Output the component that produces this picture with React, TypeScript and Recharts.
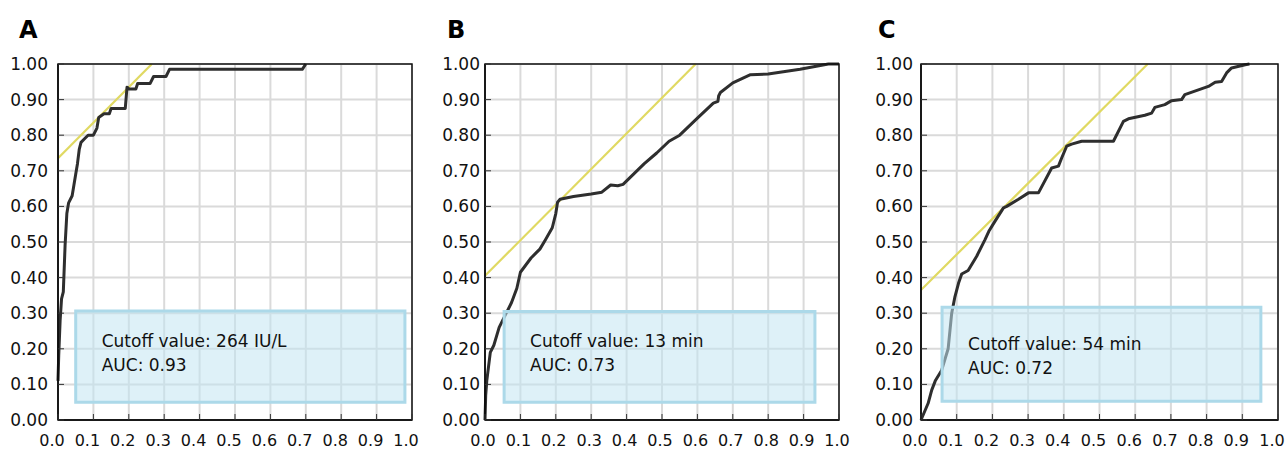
import React from 'react';
import { LineChart, Line, XAxis, YAxis, CartesianGrid, ReferenceArea } from 'recharts';

const panelLetters = ['A', 'B', 'C'];
const cutoffTexts = ['Cutoff value: 264 IU/L', 'Cutoff value: 13 min', 'Cutoff value: 54 min'];
const aucTexts = ['AUC: 0.93', 'AUC: 0.73', 'AUC: 0.72'];

const axisTicks = [0, 0.1, 0.2, 0.3, 0.4, 0.5, 0.6, 0.7, 0.8, 0.9, 1.0];

// panel A - ROC curve (1 - specificity vs sensitivity)
const aFpr = [0, 0.002, 0.006, 0.01, 0.015, 0.02, 0.025, 0.03, 0.04, 0.045, 0.05, 0.055, 0.06, 0.065, 0.075, 0.085, 0.1, 0.11, 0.115, 0.13, 0.145, 0.15, 0.19, 0.195, 0.2, 0.22, 0.225, 0.26, 0.27, 0.305, 0.315, 0.69, 0.7];
const aTpr = [0.11, 0.18, 0.28, 0.34, 0.36, 0.49, 0.58, 0.61, 0.63, 0.66, 0.69, 0.72, 0.76, 0.78, 0.79, 0.8, 0.8, 0.82, 0.85, 0.86, 0.86, 0.875, 0.875, 0.935, 0.93, 0.93, 0.945, 0.945, 0.965, 0.965, 0.985, 0.985, 1.0];
const aTangentFpr = [0, 0.265];
const aTangentTpr = [0.735, 1.0];

// panel B
const bFpr = [0, 0.002, 0.005, 0.01, 0.015, 0.025, 0.04, 0.06, 0.075, 0.09, 0.1, 0.13, 0.145, 0.155, 0.17, 0.19, 0.2, 0.205, 0.212, 0.25, 0.3, 0.33, 0.355, 0.375, 0.39, 0.45, 0.485, 0.52, 0.55, 0.6, 0.645, 0.658, 0.66, 0.665, 0.7, 0.75, 0.8, 0.89, 0.97, 1.0];
const bTpr = [0, 0.07, 0.11, 0.15, 0.19, 0.21, 0.26, 0.3, 0.33, 0.37, 0.415, 0.455, 0.47, 0.48, 0.505, 0.54, 0.58, 0.612, 0.62, 0.628, 0.635, 0.64, 0.66, 0.658, 0.662, 0.72, 0.75, 0.783, 0.8, 0.848, 0.89, 0.895, 0.91, 0.92, 0.947, 0.97, 0.972, 0.985, 1.0, 1.0];
const bTangentFpr = [0, 0.595];
const bTangentTpr = [0.405, 1.0];

// panel C
const cFpr = [0, 0.02, 0.03, 0.04, 0.058, 0.076, 0.086, 0.095, 0.105, 0.114, 0.132, 0.156, 0.179, 0.19, 0.207, 0.231, 0.24, 0.273, 0.301, 0.329, 0.366, 0.385, 0.394, 0.408, 0.422, 0.45, 0.539, 0.567, 0.581, 0.627, 0.646, 0.655, 0.683, 0.702, 0.73, 0.739, 0.805, 0.824, 0.842, 0.856, 0.87, 0.908, 0.92];
const cTpr = [0, 0.047, 0.084, 0.11, 0.14, 0.2, 0.3, 0.346, 0.384, 0.41, 0.42, 0.46, 0.506, 0.53, 0.558, 0.596, 0.6, 0.62, 0.638, 0.638, 0.708, 0.713, 0.736, 0.769, 0.775, 0.783, 0.783, 0.839, 0.846, 0.856, 0.862, 0.878, 0.886, 0.897, 0.9, 0.914, 0.937, 0.949, 0.951, 0.975, 0.989, 0.998, 1.0];
const cTangentFpr = [0, 0.635];
const cTangentTpr = [0.365, 1.0];

const zip = (xs: number[], ys: number[]) => xs.map((x, i) => ({ x, y: ys[i] }));

const FONT = '"DejaVu Sans", Verdana, sans-serif';

const layouts = [
  { left: 0, width: 420, mLeft: 8, mRight: 8, gap: 10, xShift: -6, letterX: 19, box: [0.05, 0.98, 0.05, 0.306], textDy: 36 },
  { left: 430, width: 420, mLeft: 5, mRight: 11, gap: 5, xShift: -2, letterX: 447, box: [0.054, 0.932, 0.05, 0.305], textDy: 36 },
  { left: 860, width: 425, mLeft: 11, mRight: 7, gap: 8, xShift: -6, letterX: 878, box: [0.059, 0.952, 0.053, 0.317], textDy: 43 },
];

const curves = [
  { roc: zip(aFpr, aTpr), tangent: zip(aTangentFpr, aTangentTpr) },
  { roc: zip(bFpr, bTpr), tangent: zip(bTangentFpr, bTangentTpr) },
  { roc: zip(cFpr, cTpr), tangent: zip(cTangentFpr, cTangentTpr) },
];

function RocPanel({ idx }: { idx: number }) {
  const lay = layouts[idx];
  const { roc, tangent } = curves[idx];
  const [bx1, bx2, by1, by2] = lay.box;

  const yTick = (p: any) => {
    const axisX = p.x + lay.gap;
    return (
      <g>
        <line x1={axisX} x2={axisX + 6} y1={p.y} y2={p.y} stroke="#333" strokeWidth={1} />
        <text x={p.x} y={p.y} textAnchor="end" dominantBaseline="central" fontSize={17} fontFamily={FONT} fill="#111">
          {Number(p.payload.value).toFixed(2)}
        </text>
      </g>
    );
  };

  const xTick = (p: any) => (
    <g>
      <line x1={p.x} x2={p.x} y1={p.y} y2={p.y - 6} stroke="#333" strokeWidth={1} />
      <text x={p.x + lay.xShift} y={p.y + 26} textAnchor="middle" fontSize={16} fontFamily={FONT} fill="#111">
        {Number(p.payload.value).toFixed(1)}
      </text>
    </g>
  );

  const boxLabel = (p: any) => {
    const vb = p.viewBox || {};
    return (
      <g>
        <text x={vb.x + 26} y={vb.y + lay.textDy} fontSize={17} fontFamily={FONT} fill="#111">{cutoffTexts[idx]}</text>
        <text x={vb.x + 26} y={vb.y + lay.textDy + 24} fontSize={17} fontFamily={FONT} fill="#111">{aucTexts[idx]}</text>
      </g>
    );
  };

  return (
    <div style={{ position: 'absolute', left: lay.left, top: 0 }}>
      <LineChart width={lay.width} height={450} margin={{ top: 64, right: lay.mRight, bottom: 5, left: lay.mLeft }}>
        <CartesianGrid stroke="#dadada" strokeWidth={2} />
        <XAxis
          type="number"
          dataKey="x"
          domain={[0, 1]}
          ticks={axisTicks}
          height={25}
          tickSize={0}
          tickMargin={0}
          tickLine={false}
          axisLine={{ stroke: '#000', strokeWidth: 1.5 }}
          tick={xTick}
        />
        <YAxis
          type="number"
          domain={[0, 1]}
          ticks={axisTicks}
          width={50}
          tickSize={0}
          tickMargin={lay.gap}
          tickLine={false}
          axisLine={{ stroke: '#000', strokeWidth: 1.5 }}
          tick={yTick}
        />
        <Line data={tangent} dataKey="y" stroke="#e0d962" strokeWidth={2.2} dot={false} isAnimationActive={false} />
        <Line data={roc} dataKey="y" stroke="#2e2e2e" strokeWidth={3} strokeLinejoin="round" dot={false} isAnimationActive={false} />
        <ReferenceArea
          x1={bx1}
          x2={bx2}
          y1={by1}
          y2={by2}
          fill="#c2e5f2"
          fillOpacity={0.55}
          stroke="#acd9e9"
          strokeWidth={3}
          label={boxLabel}
          zIndex={700}
        />
        <ReferenceArea x1={0} x2={1} y1={0} y2={1} fill="none" stroke="#111" strokeWidth={1.5} zIndex={800} />
      </LineChart>
    </div>
  );
}

export default function App() {
  return (
    <div style={{ position: 'absolute', left: 0, top: 0, width: 1285, height: 450, background: '#fff', fontFamily: FONT }}>
      {panelLetters.map((letter, i) => (
        <div
          key={letter}
          style={{ position: 'absolute', left: layouts[i].letterX, top: 18, fontSize: 24, lineHeight: '24px', fontWeight: 'bold', color: '#000' }}
        >
          {letter}
        </div>
      ))}
      {layouts.map((_, i) => (
        <RocPanel key={i} idx={i} />
      ))}
    </div>
  );
}
